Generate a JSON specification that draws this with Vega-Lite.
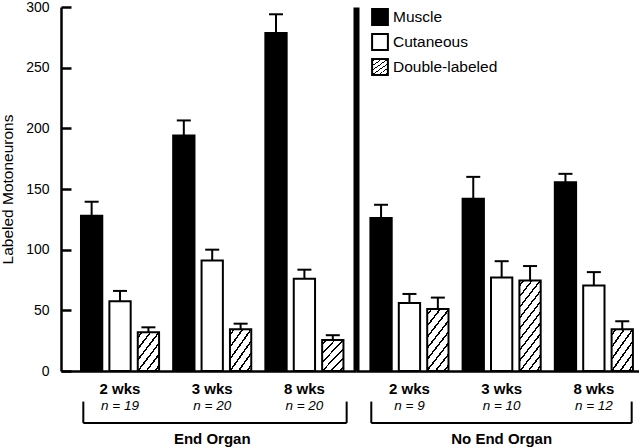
{
  "$schema": "https://vega.github.io/schema/vega-lite/v6.json",
  "padding": 0,
  "bounds": "flush",
  "spacing": 0,
  "config": {
    "view": {"stroke": null},
    "font": "Liberation Sans",
    "axis": {"labelColor": "black", "titleColor": "black", "domainColor": "black", "tickColor": "black", "grid": false, "labelFont": "Liberation Sans", "titleFont": "Liberation Sans"},
    "text": {"font": "Liberation Sans", "color": "black"}
  },
  "datasets": {
    "bars": [
      {"organ": "End Organ", "wk": "2 wks", "type": "Muscle", "value": 128, "upper": 139.5},
      {"organ": "End Organ", "wk": "2 wks", "type": "Cutaneous", "value": 57.5, "upper": 66},
      {"organ": "End Organ", "wk": "2 wks", "type": "Double-labeled", "value": 32, "upper": 36},
      {"organ": "End Organ", "wk": "3 wks", "type": "Muscle", "value": 194, "upper": 206.5},
      {"organ": "End Organ", "wk": "3 wks", "type": "Cutaneous", "value": 91, "upper": 100},
      {"organ": "End Organ", "wk": "3 wks", "type": "Double-labeled", "value": 34.5, "upper": 39},
      {"organ": "End Organ", "wk": "8 wks", "type": "Muscle", "value": 278.5, "upper": 294},
      {"organ": "End Organ", "wk": "8 wks", "type": "Cutaneous", "value": 76, "upper": 83.5},
      {"organ": "End Organ", "wk": "8 wks", "type": "Double-labeled", "value": 25.5, "upper": 29.5},
      {"organ": "No End Organ", "wk": "2 wks", "type": "Muscle", "value": 126, "upper": 137},
      {"organ": "No End Organ", "wk": "2 wks", "type": "Cutaneous", "value": 56, "upper": 63.5},
      {"organ": "No End Organ", "wk": "2 wks", "type": "Double-labeled", "value": 51, "upper": 60.5},
      {"organ": "No End Organ", "wk": "3 wks", "type": "Muscle", "value": 142, "upper": 160},
      {"organ": "No End Organ", "wk": "3 wks", "type": "Cutaneous", "value": 77, "upper": 90.5},
      {"organ": "No End Organ", "wk": "3 wks", "type": "Double-labeled", "value": 74.5, "upper": 86.5},
      {"organ": "No End Organ", "wk": "8 wks", "type": "Muscle", "value": 155.5, "upper": 162.5},
      {"organ": "No End Organ", "wk": "8 wks", "type": "Cutaneous", "value": 70.5, "upper": 81.5},
      {"organ": "No End Organ", "wk": "8 wks", "type": "Double-labeled", "value": 34.5, "upper": 41}
    ],
    "groups": [
      {"organ": "End Organ", "wk": "2 wks", "n": "n = 19"},
      {"organ": "End Organ", "wk": "3 wks", "n": "n = 20"},
      {"organ": "End Organ", "wk": "8 wks", "n": "n = 20"},
      {"organ": "No End Organ", "wk": "2 wks", "n": "n = 9"},
      {"organ": "No End Organ", "wk": "3 wks", "n": "n = 10"},
      {"organ": "No End Organ", "wk": "8 wks", "n": "n = 12"}
    ],
    "organs": [
      {"organ": "End Organ"},
      {"organ": "No End Organ"}
    ]
  },
  "resolve": {"scale": {"x": "independent", "xOffset": "independent", "y": "independent"}},
  "hconcat": [
    {
      "width": 295,
      "height": 364,
      "layer": [
        {
          "data": {"name": "bars"},
          "transform": [{"filter": "datum.organ === 'End Organ'"}],
          "mark": {"type": "bar", "stroke": "black", "strokeWidth": 2},
          "encoding": {
            "x": {"field": "wk", "type": "nominal", "sort": ["2 wks", "3 wks", "8 wks"],
              "scale": {"paddingInner": 0.076, "paddingOuter": 0.138, "align": 0.646},
              "axis": {"title": null, "ticks": false, "labelAngle": 0, "labelFontSize": 15, "labelFontWeight": "bold", "labelBaseline": "middle", "labelPadding": 17, "domainWidth": 2.5}},
            "xOffset": {"field": "type", "sort": ["Muscle", "Cutaneous", "Double-labeled"], "scale": {"paddingInner": 0.25, "paddingOuter": 0.125}},
            "y": {"field": "value", "type": "quantitative", "scale": {"domain": [0, 300], "nice": false},
              "axis": {"title": "Labeled Motoneurons", "values": [0, 50, 100, 150, 200, 250, 300], "tickSize": -10, "tickWidth": 2.5, "labelPadding": 22, "labelFontSize": 14, "titleFontSize": 15.5, "titleFontWeight": "normal", "titlePadding": 10, "domainWidth": 2.5}},
            "fill": {
              "condition": {"test": "datum.type === 'Double-labeled'", "value": {"gradient": "linear", "x1": 0, "y1": 0, "x2": 0.814, "y2": 1.134, "stops": [
                {"offset": 0, "color": "white"},
                {"offset": 0.065, "color": "white"}, {"offset": 0.065, "color": "black"}, {"offset": 0.1017, "color": "black"}, {"offset": 0.1017, "color": "white"},
                {"offset": 0.2317, "color": "white"}, {"offset": 0.2317, "color": "black"}, {"offset": 0.2683, "color": "black"}, {"offset": 0.2683, "color": "white"},
                {"offset": 0.3983, "color": "white"}, {"offset": 0.3983, "color": "black"}, {"offset": 0.435, "color": "black"}, {"offset": 0.435, "color": "white"},
                {"offset": 0.565, "color": "white"}, {"offset": 0.565, "color": "black"}, {"offset": 0.6017, "color": "black"}, {"offset": 0.6017, "color": "white"},
                {"offset": 0.7317, "color": "white"}, {"offset": 0.7317, "color": "black"}, {"offset": 0.7683, "color": "black"}, {"offset": 0.7683, "color": "white"},
                {"offset": 0.8983, "color": "white"}, {"offset": 0.8983, "color": "black"}, {"offset": 0.935, "color": "black"}, {"offset": 0.935, "color": "white"},
                {"offset": 1, "color": "white"}]}},
              "field": "type", "type": "nominal",
              "scale": {"domain": ["Muscle", "Cutaneous", "Double-labeled"], "range": ["black", "white", "url(#gradient_0)"]},
              "legend": {"title": null, "orient": "none", "legendX": 310, "legendY": 1, "symbolType": "square", "symbolSize": 250, "symbolStrokeColor": "black", "symbolStrokeWidth": 2, "symbolOpacity": 1, "labelFontSize": 15.5, "labelFont": "Liberation Sans", "labelColor": "black", "labelOffset": 4, "rowPadding": 1, "padding": 0,
                "encode": {"symbols": {"update": {
                  "stroke": {"value": "black"},
                  "strokeWidth": {"value": 2},
                  "opacity": {"value": 1},
                  "fillOpacity": {"value": 1}}}}}
            }
          }
        },
        {
          "data": {"name": "bars"},
          "transform": [{"filter": "datum.organ === 'End Organ'"}],
          "mark": {"type": "rule", "strokeWidth": 2, "color": "black"},
          "encoding": {
            "x": {"field": "wk", "type": "nominal", "sort": ["2 wks", "3 wks", "8 wks"]},
            "xOffset": {"field": "type", "sort": ["Muscle", "Cutaneous", "Double-labeled"]},
            "y": {"field": "value", "type": "quantitative"},
            "y2": {"field": "upper"}
          }
        },
        {
          "data": {"name": "bars"},
          "transform": [{"filter": "datum.organ === 'End Organ'"}],
          "mark": {"type": "tick", "orient": "horizontal", "size": 14, "thickness": 2, "color": "black", "opacity": 1},
          "encoding": {
            "x": {"field": "wk", "type": "nominal", "sort": ["2 wks", "3 wks", "8 wks"]},
            "xOffset": {"field": "type", "sort": ["Muscle", "Cutaneous", "Double-labeled"]},
            "y": {"field": "upper", "type": "quantitative"}
          }
        },
        {
          "data": {"name": "groups"},
          "transform": [{"filter": "datum.organ === 'End Organ'"}],
          "mark": {"type": "text", "fontSize": 13.5, "fontStyle": "italic", "baseline": "middle"},
          "encoding": {
            "x": {"field": "wk", "type": "nominal", "sort": ["2 wks", "3 wks", "8 wks"]},
            "y": {"datum": -28.7},
            "text": {"field": "n"}
          }
        },
        {
          "data": {"name": "organs"},
          "transform": [{"filter": "datum.organ === 'End Organ'"}],
          "mark": {"type": "rule", "strokeWidth": 2, "color": "black"},
          "encoding": {
            "x": {"datum": "2 wks", "bandPosition": 0.069},
            "y": {"datum": -25.2},
            "y2": {"datum": -42.9}
          }
        },
        {
          "data": {"name": "organs"},
          "transform": [{"filter": "datum.organ === 'End Organ'"}],
          "mark": {"type": "rule", "strokeWidth": 2, "color": "black"},
          "encoding": {
            "x": {"datum": "8 wks", "bandPosition": 0.996},
            "y": {"datum": -25.2},
            "y2": {"datum": -42.9}
          }
        },
        {
          "data": {"name": "organs"},
          "transform": [{"filter": "datum.organ === 'End Organ'"}],
          "mark": {"type": "rule", "strokeWidth": 2, "color": "black"},
          "encoding": {
            "x": {"datum": "2 wks", "bandPosition": 0.069},
            "x2": {"datum": "8 wks", "bandPosition": 0.996},
            "y": {"datum": -42.9}
          }
        },
        {
          "data": {"name": "organs"},
          "transform": [{"filter": "datum.organ === 'End Organ'"}],
          "mark": {"type": "text", "fontSize": 15, "fontWeight": "bold", "baseline": "middle"},
          "encoding": {
            "x": {"datum": "3 wks"},
            "y": {"datum": -55.7},
            "text": {"field": "organ"}
          }
        }
      ]
    },
    {
      "width": 283,
      "height": 364,
      "layer": [
        {
          "data": {"name": "bars"},
          "transform": [{"filter": "datum.organ === 'No End Organ'"}],
          "mark": {"type": "bar", "stroke": "black", "strokeWidth": 2},
          "encoding": {
            "x": {"field": "wk", "type": "nominal", "sort": ["2 wks", "3 wks", "8 wks"],
              "scale": {"paddingInner": 0.076, "paddingOuter": 0.0727, "align": 0.81},
              "axis": {"title": null, "ticks": false, "labelAngle": 0, "labelFontSize": 15, "labelFontWeight": "bold", "labelBaseline": "middle", "labelPadding": 17, "domainWidth": 2.5}},
            "xOffset": {"field": "type", "sort": ["Muscle", "Cutaneous", "Double-labeled"], "scale": {"paddingInner": 0.25, "paddingOuter": 0.125}},
            "y": {"field": "value", "type": "quantitative", "scale": {"domain": [0, 300], "nice": false},
              "axis": {"title": null, "labels": false, "ticks": false, "domainWidth": 6}},
            "fill": {
              "condition": [
                {"test": "datum.type === 'Double-labeled' && datum.value < 45", "value": {"gradient": "linear", "x1": 0, "y1": 0, "x2": 0.814, "y2": 1.134, "stops": [
                  {"offset": 0, "color": "white"},
                  {"offset": 0.065, "color": "white"}, {"offset": 0.065, "color": "black"}, {"offset": 0.1017, "color": "black"}, {"offset": 0.1017, "color": "white"},
                  {"offset": 0.2317, "color": "white"}, {"offset": 0.2317, "color": "black"}, {"offset": 0.2683, "color": "black"}, {"offset": 0.2683, "color": "white"},
                  {"offset": 0.3983, "color": "white"}, {"offset": 0.3983, "color": "black"}, {"offset": 0.435, "color": "black"}, {"offset": 0.435, "color": "white"},
                  {"offset": 0.565, "color": "white"}, {"offset": 0.565, "color": "black"}, {"offset": 0.6017, "color": "black"}, {"offset": 0.6017, "color": "white"},
                  {"offset": 0.7317, "color": "white"}, {"offset": 0.7317, "color": "black"}, {"offset": 0.7683, "color": "black"}, {"offset": 0.7683, "color": "white"},
                  {"offset": 0.8983, "color": "white"}, {"offset": 0.8983, "color": "black"}, {"offset": 0.935, "color": "black"}, {"offset": 0.935, "color": "white"},
                  {"offset": 1, "color": "white"}]}},
                {"test": "datum.type === 'Double-labeled' && datum.value < 65", "value": {"gradient": "linear", "x1": 0, "y1": 0, "x2": 0.531, "y2": 1.206, "stops": [
                  {"offset": 0, "color": "white"},
                  {"offset": 0.04875, "color": "white"}, {"offset": 0.04875, "color": "black"}, {"offset": 0.07625, "color": "black"}, {"offset": 0.07625, "color": "white"},
                  {"offset": 0.17375, "color": "white"}, {"offset": 0.17375, "color": "black"}, {"offset": 0.20125, "color": "black"}, {"offset": 0.20125, "color": "white"},
                  {"offset": 0.29875, "color": "white"}, {"offset": 0.29875, "color": "black"}, {"offset": 0.32625, "color": "black"}, {"offset": 0.32625, "color": "white"},
                  {"offset": 0.42375, "color": "white"}, {"offset": 0.42375, "color": "black"}, {"offset": 0.45125, "color": "black"}, {"offset": 0.45125, "color": "white"},
                  {"offset": 0.54875, "color": "white"}, {"offset": 0.54875, "color": "black"}, {"offset": 0.57625, "color": "black"}, {"offset": 0.57625, "color": "white"},
                  {"offset": 0.67375, "color": "white"}, {"offset": 0.67375, "color": "black"}, {"offset": 0.70125, "color": "black"}, {"offset": 0.70125, "color": "white"},
                  {"offset": 0.79875, "color": "white"}, {"offset": 0.79875, "color": "black"}, {"offset": 0.82625, "color": "black"}, {"offset": 0.82625, "color": "white"},
                  {"offset": 0.92375, "color": "white"}, {"offset": 0.92375, "color": "black"}, {"offset": 0.95125, "color": "black"}, {"offset": 0.95125, "color": "white"},
                  {"offset": 1, "color": "white"}]}},
                {"test": "datum.type === 'Double-labeled'", "value": {"gradient": "linear", "x1": 0, "y1": 0, "x2": 0.362, "y2": 1.194, "stops": [
                  {"offset": 0, "color": "white"},
                  {"offset": 0.0355, "color": "white"}, {"offset": 0.0355, "color": "black"}, {"offset": 0.0555, "color": "black"}, {"offset": 0.0555, "color": "white"},
                  {"offset": 0.1264, "color": "white"}, {"offset": 0.1264, "color": "black"}, {"offset": 0.1464, "color": "black"}, {"offset": 0.1464, "color": "white"},
                  {"offset": 0.2173, "color": "white"}, {"offset": 0.2173, "color": "black"}, {"offset": 0.2373, "color": "black"}, {"offset": 0.2373, "color": "white"},
                  {"offset": 0.3082, "color": "white"}, {"offset": 0.3082, "color": "black"}, {"offset": 0.3282, "color": "black"}, {"offset": 0.3282, "color": "white"},
                  {"offset": 0.3991, "color": "white"}, {"offset": 0.3991, "color": "black"}, {"offset": 0.4191, "color": "black"}, {"offset": 0.4191, "color": "white"},
                  {"offset": 0.49, "color": "white"}, {"offset": 0.49, "color": "black"}, {"offset": 0.51, "color": "black"}, {"offset": 0.51, "color": "white"},
                  {"offset": 0.5809, "color": "white"}, {"offset": 0.5809, "color": "black"}, {"offset": 0.6009, "color": "black"}, {"offset": 0.6009, "color": "white"},
                  {"offset": 0.6718, "color": "white"}, {"offset": 0.6718, "color": "black"}, {"offset": 0.6918, "color": "black"}, {"offset": 0.6918, "color": "white"},
                  {"offset": 0.7627, "color": "white"}, {"offset": 0.7627, "color": "black"}, {"offset": 0.7827, "color": "black"}, {"offset": 0.7827, "color": "white"},
                  {"offset": 0.8536, "color": "white"}, {"offset": 0.8536, "color": "black"}, {"offset": 0.8736, "color": "black"}, {"offset": 0.8736, "color": "white"},
                  {"offset": 0.9445, "color": "white"}, {"offset": 0.9445, "color": "black"}, {"offset": 0.9645, "color": "black"}, {"offset": 0.9645, "color": "white"},
                  {"offset": 1, "color": "white"}]}}
              ],
              "field": "type", "type": "nominal"}
          }
        },
        {
          "data": {"name": "bars"},
          "transform": [{"filter": "datum.organ === 'No End Organ'"}],
          "mark": {"type": "rule", "strokeWidth": 2, "color": "black"},
          "encoding": {
            "x": {"field": "wk", "type": "nominal", "sort": ["2 wks", "3 wks", "8 wks"]},
            "xOffset": {"field": "type", "sort": ["Muscle", "Cutaneous", "Double-labeled"]},
            "y": {"field": "value", "type": "quantitative"},
            "y2": {"field": "upper"}
          }
        },
        {
          "data": {"name": "bars"},
          "transform": [{"filter": "datum.organ === 'No End Organ'"}],
          "mark": {"type": "tick", "orient": "horizontal", "size": 14, "thickness": 2, "color": "black", "opacity": 1},
          "encoding": {
            "x": {"field": "wk", "type": "nominal", "sort": ["2 wks", "3 wks", "8 wks"]},
            "xOffset": {"field": "type", "sort": ["Muscle", "Cutaneous", "Double-labeled"]},
            "y": {"field": "upper", "type": "quantitative"}
          }
        },
        {
          "data": {"name": "groups"},
          "transform": [{"filter": "datum.organ === 'No End Organ'"}],
          "mark": {"type": "text", "fontSize": 13.5, "fontStyle": "italic", "baseline": "middle"},
          "encoding": {
            "x": {"field": "wk", "type": "nominal", "sort": ["2 wks", "3 wks", "8 wks"]},
            "y": {"datum": -28.7},
            "text": {"field": "n"}
          }
        },
        {
          "data": {"name": "organs"},
          "transform": [{"filter": "datum.organ === 'No End Organ'"}],
          "mark": {"type": "rule", "strokeWidth": 2, "color": "black"},
          "encoding": {
            "x": {"datum": "2 wks", "bandPosition": 0.052},
            "y": {"datum": -25.2},
            "y2": {"datum": -42.9}
          }
        },
        {
          "data": {"name": "organs"},
          "transform": [{"filter": "datum.organ === 'No End Organ'"}],
          "mark": {"type": "rule", "strokeWidth": 2, "color": "black"},
          "encoding": {
            "x": {"datum": "8 wks", "bandPosition": 0.944},
            "y": {"datum": -25.2},
            "y2": {"datum": -42.9}
          }
        },
        {
          "data": {"name": "organs"},
          "transform": [{"filter": "datum.organ === 'No End Organ'"}],
          "mark": {"type": "rule", "strokeWidth": 2, "color": "black"},
          "encoding": {
            "x": {"datum": "2 wks", "bandPosition": 0.052},
            "x2": {"datum": "8 wks", "bandPosition": 0.944},
            "y": {"datum": -42.9}
          }
        },
        {
          "data": {"name": "organs"},
          "transform": [{"filter": "datum.organ === 'No End Organ'"}],
          "mark": {"type": "text", "fontSize": 15, "fontWeight": "bold", "baseline": "middle"},
          "encoding": {
            "x": {"datum": "3 wks"},
            "y": {"datum": -55.7},
            "text": {"field": "organ"}
          }
        }
      ]
    }
  ]
}
